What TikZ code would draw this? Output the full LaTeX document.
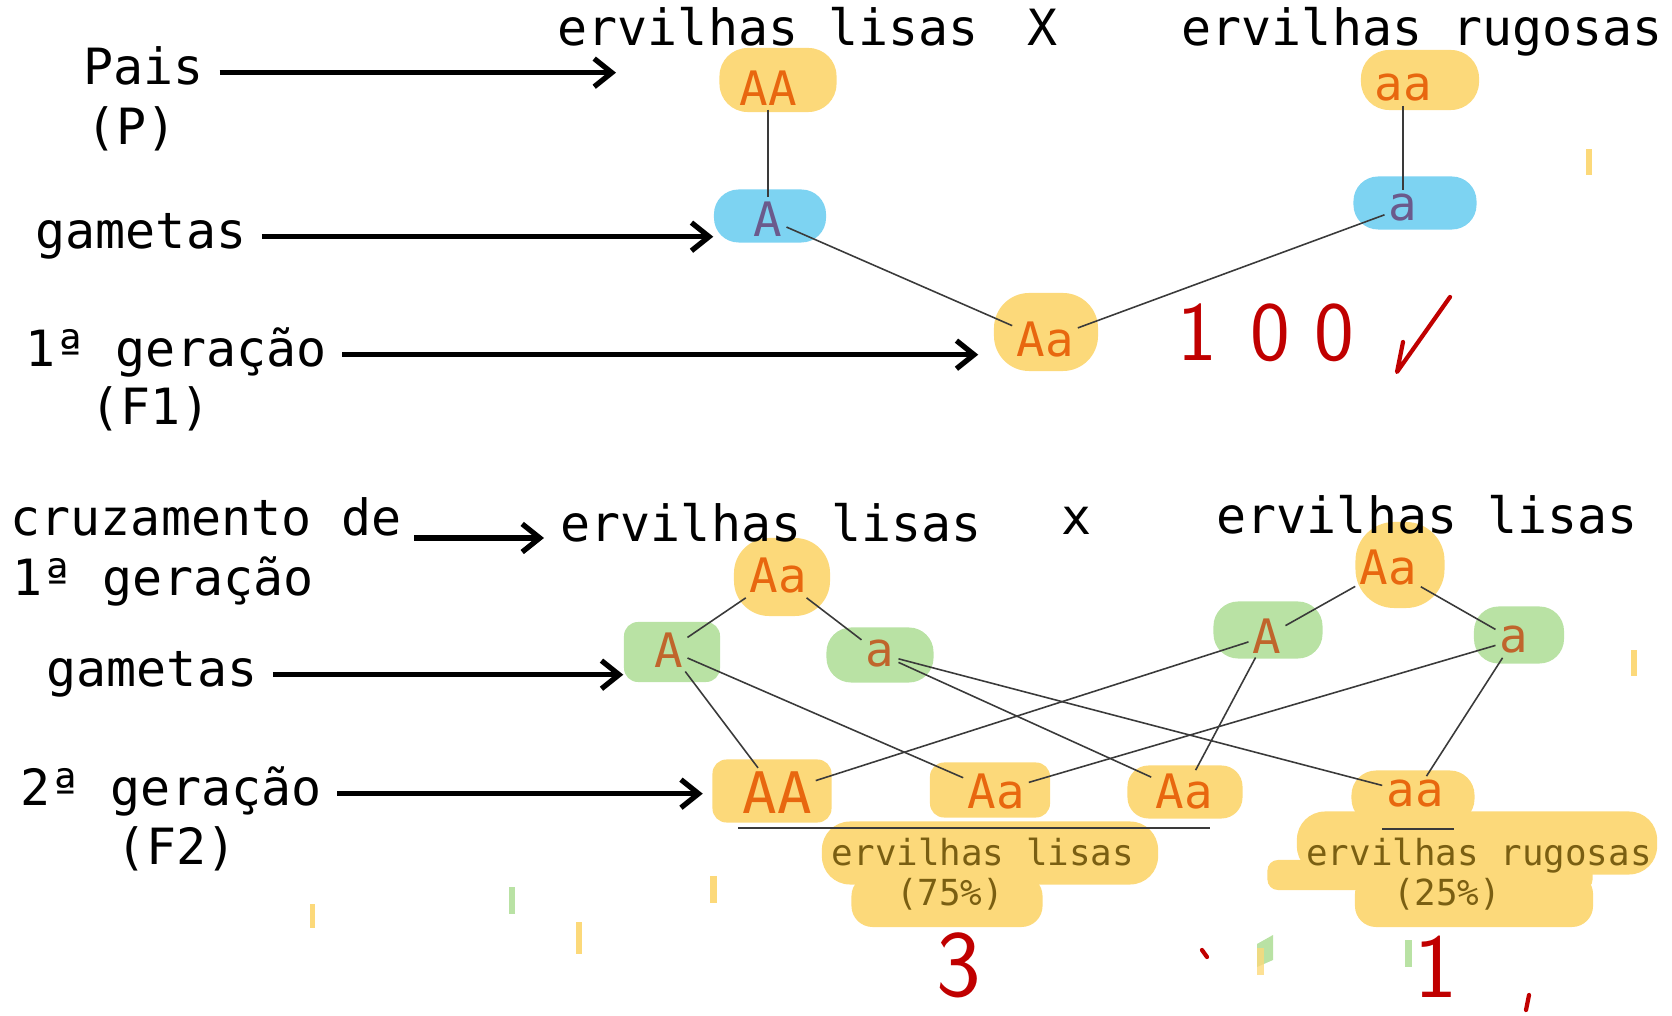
\documentclass[tikz,border=0pt]{standalone}
\usepackage{fontspec}
\usepackage{xcolor}
\usepackage{tikz}
\usetikzlibrary{calc}
\usetikzlibrary{arrows.meta}
\usetikzlibrary{positioning}
\newfontfamily\mono{DejaVu Sans Mono}
\definecolor{amarelo}{HTML}{FCD97A}
\definecolor{azul}{HTML}{7DD3F2}
\definecolor{verde}{HTML}{B9E2A4}
\definecolor{laranja}{HTML}{E8670F}
\definecolor{roxo}{HTML}{6B5A8C}
\definecolor{marrom}{HTML}{C0652C}
\definecolor{oliva}{HTML}{7A5F12}
\definecolor{vermelho}{HTML}{C00000}
\definecolor{linha}{HTML}{3A3A3A}
\tikzset{>=latex}
\tikzstyle{txt} = [inner sep=0, font=\mono\fontsize{14.2pt}{17pt}\selectfont, text height=10pt, text depth=3pt, anchor=base west]
\tikzstyle{gen} = [inner sep=1pt, font=\mono\fontsize{13.5pt}{16pt}\selectfont, text=laranja]
\tikzstyle{small} = [inner sep=0, font=\mono\fontsize{10.2pt}{12pt}\selectfont, text=oliva, anchor=base]
\tikzstyle{hand} = [inner sep=0, font=\sffamily\fontsize{24pt}{26pt}\selectfont, text=vermelho]
\tikzstyle{bY} = [fill=amarelo, rounded corners=8pt, inner sep=0]
\tikzstyle{bB} = [fill=azul, rounded corners=7pt, inner sep=0]
\tikzstyle{bG} = [fill=verde, rounded corners=7pt, inner sep=0]
\tikzstyle{seta} = [-{Straight Barb[length=5pt,width=8pt]}, line width=1.5pt, shorten <=1.5mm]
\tikzstyle{lig} = [-, draw=linha, line width=0.45pt]
\tikzstyle{risco} = [vermelho, line width=1.2pt, line cap=round, line join=round]

\begin{document}
\begin{tikzpicture}[x=0.01cm, y=-0.01cm]
\useasboundingbox (0,0) rectangle (1672,1016);

\node [bY, minimum width=1.17cm, minimum height=0.64cm] (bAA) at (778, 80) {};
\node [bY, minimum width=1.18cm, minimum height=0.60cm] (baa) at (1420, 80) {};
\node [bB, minimum width=1.12cm, minimum height=0.53cm] (bA) at (770, 216) {};
\node [bB, minimum width=1.23cm, minimum height=0.53cm] (ba) at (1415, 203) {};
\node [bY, minimum width=1.04cm, minimum height=0.78cm, rounded corners=10pt] (bAa1) at (1046, 332) {};
\node [bY, minimum width=0.96cm, minimum height=0.78cm, rounded corners=10pt] (bAaL) at (782, 577) {};
\node [bG, minimum width=0.96cm, minimum height=0.60cm, rounded corners=4pt] (bAL) at (672, 652) {};
\node [bG, minimum width=1.07cm, minimum height=0.55cm] (baL) at (880, 655) {};
\node [bY, minimum width=0.89cm, minimum height=0.86cm, rounded corners=11pt] (bAaR) at (1400, 565) {};
\node [bG, minimum width=1.09cm, minimum height=0.57cm] (bAR) at (1268, 630) {};
\node [bG, minimum width=0.90cm, minimum height=0.57cm] (baR) at (1519, 635) {};
\node [bY, minimum width=3.36cm, minimum height=0.63cm] (hlL) at (990, 853) {};
\node [bY, minimum width=1.91cm, minimum height=0.52cm, rounded corners=6pt] (hlL2) at (947, 901) {};
\node [bY, minimum width=3.60cm, minimum height=0.63cm] (hlR) at (1477, 843) {};
\node [bY, minimum width=3.25cm, minimum height=0.30cm, rounded corners=3pt] (hlR2) at (1430, 875) {};
\node [bY, minimum width=2.38cm, minimum height=0.54cm, rounded corners=6pt] (hlR3) at (1474, 900) {};
\node [bY, minimum width=1.19cm, minimum height=0.63cm, rounded corners=4pt] (bAA2) at (772, 791) {};
\node [bY, minimum width=1.20cm, minimum height=0.55cm, rounded corners=4pt] (bAa2) at (990, 790) {};
\node [bY, minimum width=1.15cm, minimum height=0.53cm, rounded corners=6pt] (bAa3) at (1185, 792) {};
\node [bY, minimum width=1.23cm, minimum height=0.53cm, rounded corners=7pt] (baa2) at (1413, 797) {};

\node [txt] (tLisas1) at (557, 46) {ervilhas lisas};
\node [txt, anchor=base] (tX1) at (1043, 46) {X};
\node [txt] (tRug1) at (1181, 46) {ervilhas rugosas};
\node [txt] (tLisas2) at (560, 542) {ervilhas lisas};
\node [txt, anchor=base] (tX2) at (1077, 535) {x};
\node [txt] (tLisas3) at (1216, 534) {ervilhas lisas};

\node [txt] (lPais) at (83, 85) {Pais};
\node [txt] (lP) at (86, 145) {(P)};
\node [txt] (lGam1) at (35, 249) {gametas};
\node [txt] (lGer1) at (25, 367) {1ª geração};
\node [txt] (lF1) at (90, 425) {(F1)};
\node [txt] (lCruz) at (10, 536) {cruzamento de};
\node [txt] (lGer1b) at (12, 596) {1ª geração};
\node [txt] (lGam2) at (46, 687) {gametas};
\node [txt] (lGer2) at (20, 806) {2ª geração};
\node [txt] (lF2) at (116, 865) {(F2)};

\node [gen] (gAA) at (768, 88) {AA};
\node [gen] (gaa) at (1403, 88) {aa};
\node [gen, text=roxo] (gA) at (768, 219) {A};
\node [gen, text=roxo] (ga) at (1403, 208) {a};
\node [gen] (gAa1) at (1045, 340) {Aa};
\node [gen] (gAaL) at (778, 576) {Aa};
\node [gen, text=marrom] (gAL) at (669, 650) {A};
\node [gen, text=marrom] (gaL) at (880, 654) {a};
\node [gen] (gAaR) at (1388, 568) {Aa};
\node [gen, text=marrom] (gAR) at (1267, 636) {A};
\node [gen, text=marrom] (gaR) at (1514, 640) {a};
\node [gen, font=\mono\fontsize{16.3pt}{18pt}\selectfont] (gAA2) at (777, 793) {AA};
\node [gen] (gAa2) at (996, 792) {Aa};
\node [gen] (gAa3) at (1184, 792) {Aa};
\node [gen] (gaa2) at (1415, 794) {aa};

\node [small] (sLisas) at (983, 866) {ervilhas lisas};
\node [small] (s75) at (950, 906) {(75\%)};
\node [small] (sRug) at (1479, 866) {ervilhas rugosas};
\node [small] (s25) at (1447, 906) {(25\%)};

\coordinate (cPais) at (616, 71);
\coordinate (cCz0) at (414, 538);
\coordinate (cCz1) at (544, 538);
\draw [seta] (lPais.east) -- (lPais.east -| cPais);
\draw [seta] (lGam1.east) -- (lGam1.east -| bA.west);
\draw [seta, shorten >=1.5mm] (lGer1.east) -- (lGer1.east -| bAa1.west);
\draw [seta, shorten <=0pt] (cCz0) -- (cCz1);
\draw [seta] (lGam2.east) -- (lGam2.east -| bAL.west);
\draw [seta, shorten >=0.9mm] (lGer2.east) -- (lGer2.east -| bAA2.west);

\draw [lig] (gAA) to (gA);
\draw [lig] (gaa) to (ga);
\draw [lig] (gA) to (gAa1);
\draw [lig] (ga) to (gAa1);
\draw [lig] (gAaL) to (gAL);
\draw [lig] (gAaL) to (gaL);
\draw [lig] (gAaR) to (gAR);
\draw [lig] (gAaR) to (gaR);
\draw [lig] (gAL) to (gAA2);
\draw [lig] (gAL) to (gAa2);
\draw [lig] (gaL) to (gAa3);
\draw [lig] (gaL) to (gaa2);
\draw [lig] (gAR) to (gAA2);
\draw [lig] (gAR) to (gAa3);
\draw [lig] (gaR) to (gAa2);
\draw [lig] (gaR) to (gaa2);
\draw [lig] (738, 828) -- (1210, 828);
\draw [lig, line width=0.8pt] (1382, 829) -- (1454, 829);

\node [hand, anchor=base west] (h100) at (1177, 361) {1\kern 0.33cm 0\kern 0.24cm 0};
\draw [risco] (1403, 342) -- (1397, 372) -- (1450, 297);
\node [hand, font=\sffamily\fontsize{27pt}{29pt}\selectfont] (h3) at (959, 965) {3};
\node [hand, font=\sffamily\fontsize{26pt}{28pt}\selectfont] (h1) at (1436, 967) {1};
\draw [risco] (1202, 950) -- (1207, 957);
\draw [risco] (1529, 995) -- (1526, 1010);

\fill [amarelo] (1586, 149) rectangle (1592, 175);
\fill [amarelo] (1631, 650) rectangle (1637, 676);
\fill [amarelo] (710, 876) rectangle (717, 903);
\fill [amarelo] (310, 904) rectangle (315, 928);
\fill [verde] (509, 887) rectangle (515, 914);
\fill [amarelo] (576, 922) rectangle (582, 954);
\fill [verde] (1257, 944) -- (1273, 935) -- (1273, 960) -- (1257, 967) -- cycle;
\fill [amarelo, opacity=0.8] (1257, 948) rectangle (1264, 975);
\fill [verde] (1405, 940) rectangle (1412, 967);
\end{tikzpicture}
\end{document}
